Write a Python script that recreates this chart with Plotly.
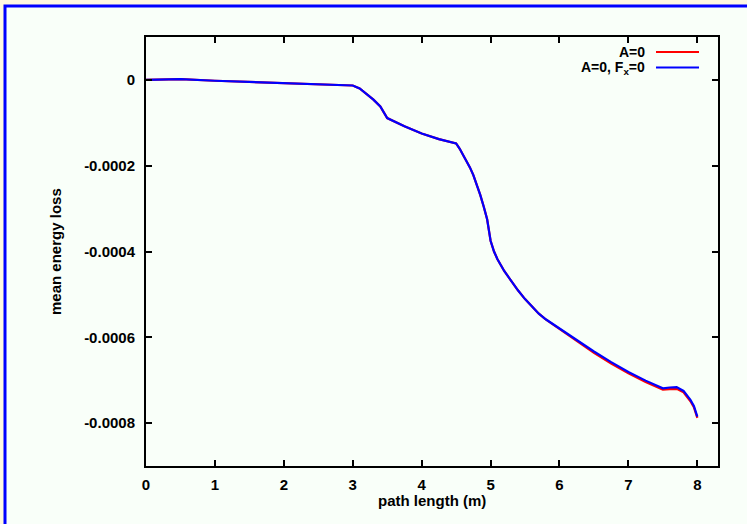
import plotly.graph_objects as go

# path length along the beam line (m)
path_m = [0.0, 0.25, 0.5, 1.0, 1.5, 2.0, 2.5, 3.0, 3.1, 3.2, 3.3, 3.4, 3.45, 3.5,
          3.75, 4.0, 4.25, 4.5, 4.55, 4.6, 4.65, 4.7, 4.75, 4.8, 4.85, 4.9,
          4.95, 4.98, 5.0, 5.05, 5.1, 5.2, 5.3, 5.4, 5.5, 5.6, 5.7, 5.8, 5.9,
          6.0, 6.25, 6.5, 6.75, 7.0, 7.25, 7.5, 7.6, 7.7, 7.8, 7.9, 7.95, 8.0]

# mean energy loss (units of 1e-6), A=0
loss_a0_e6 = [0.0, 1.0, 2.0, -2.0, -5.0, -8.0, -10.5, -13.0, -20, -32, -46, -62, -74, -89,
              -108, -125, -138, -148, -160, -174, -190, -204, -222, -243, -268, -295,
              -325, -355, -375, -400, -418, -446, -469, -491, -511, -529, -545, -558, -569,
              -580, -608, -636, -661, -684, -704, -722, -721, -720, -728, -749, -763, -788]

# mean energy loss (units of 1e-6), A=0 and F_x=0
loss_a0_fx0_e6 = [0.0, 1.0, 2.0, -2.0, -5.0, -8.0, -10.5, -13.0, -20, -32, -46, -62, -74, -89,
                  -108, -125, -138, -148, -160, -174, -190, -204, -222, -243, -268, -295,
                  -325, -355, -375, -400, -418, -446, -469, -491, -511, -529, -545, -558, -569,
                  -580, -607, -633, -658, -681, -701, -719, -717, -716, -725, -746, -760, -785]

series_names = ["A=0", "A=0, F<sub>x</sub>=0"]
series_colors = ["#ff0000", "#0000ff"]

x_ticks = [0, 1, 2, 3, 4, 5, 6, 7, 8]
y_ticks = [-0.0008, -0.0006, -0.0004, -0.0002, 0.0]
y_tick_text = ["-0.0008", "-0.0006", "-0.0004", "-0.0002", "0"]

W, H = 747, 524
L, R, T, B = 146, 29, 37, 58
pw, ph = W - L - R, H - T - B


def px(xp):
    return (xp - L) / pw


def py(yp):
    return (H - B - yp) / ph


FONT = "Liberation Sans"
FS = 15

fig = go.Figure()
for ys, name, col in zip([loss_a0_e6, loss_a0_fx0_e6], series_names, series_colors):
    fig.add_trace(go.Scatter(x=path_m, y=[v * 1e-6 for v in ys], mode="lines", name=name,
                             line=dict(color=col, width=2.2), showlegend=False))

axis_common = dict(showline=True, linecolor="black", linewidth=2, mirror="ticks",
                   ticks="inside", ticklen=6, tickwidth=1.5, tickcolor="black",
                   showgrid=False, zeroline=False,
                   tickfont=dict(family=FONT, size=FS, color="black", weight="bold"))

fig.update_xaxes(range=[0, 8.3], tickvals=x_ticks, ticklabelstandoff=4, **axis_common)
fig.update_yaxes(range=[-0.0009, 0.0001], tickvals=y_ticks, ticktext=y_tick_text,
                 ticklabelstandoff=6, **axis_common)

shapes = [
    # framed panel
    dict(type="rect", xref="paper", yref="paper", layer="below",
         x0=px(5), x1=px(770), y0=py(560), y1=py(6),
         line=dict(color="#0000ff", width=3), fillcolor="#f9fff9"),
]
annotations = [
    dict(text="mean energy loss", xref="paper", yref="paper", x=px(55), y=py(252),
         textangle=-90, showarrow=False, xanchor="center", yanchor="middle",
         font=dict(family=FONT, size=FS, color="black", weight="bold")),
    dict(text="path length (m)", xref="paper", yref="paper", x=px(432), y=py(500),
         showarrow=False, xanchor="center", yanchor="middle",
         font=dict(family=FONT, size=FS, color="black", weight="bold")),
]
# key in the upper right corner
for i, (name, col) in enumerate(zip(series_names, series_colors)):
    yk = 52 + i * 15.6
    annotations.append(dict(text=name, xref="paper", yref="paper", x=px(647), y=py(yk),
                            showarrow=False, xanchor="right", yanchor="middle",
                            font=dict(family=FONT, size=14, color="black", weight="bold")))
    shapes.append(dict(type="line", xref="paper", yref="paper",
                       x0=px(656), x1=px(699), y0=py(yk), y1=py(yk),
                       line=dict(color=col, width=2)))

fig.update_layout(width=W, height=H, margin=dict(l=L, r=R, t=T, b=B),
                  paper_bgcolor="#fff8e1", plot_bgcolor="#f9fff9",
                  font=dict(family=FONT, size=FS, color="black"),
                  shapes=shapes, annotations=annotations)

fig.write_html("out.html")
